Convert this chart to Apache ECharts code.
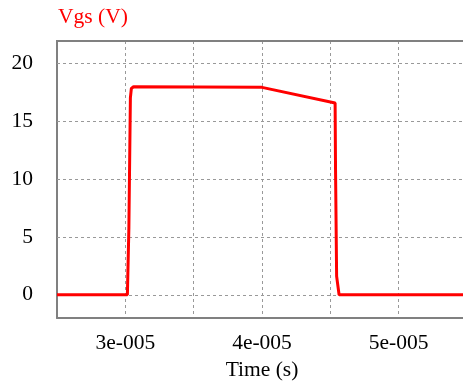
<!DOCTYPE html>
<html>
<head>
<meta charset="utf-8">
<script src="https://cdn.jsdelivr.net/npm/echarts@6/dist/echarts.min.js"></script>
<style>html,body{margin:0;padding:0;background:#fff}#c{width:463px;height:382px}</style>
</head>
<body>
<div id="c"></div>
<script>
// time in microseconds (1e-5 s = 10 us)
var timeUs = [25, 30.15, 30.26, 30.26, 30.33, 30.37, 30.44, 30.6, 40, 45.35, 45.38, 45.46, 45.64, 55];
var vgs    = [0, 0, 0, 5.8, 5.8, 17, 17.8, 17.95, 17.9, 16.55, 10.9, 1.6, 0, 0];
var xTickLabels = {30: '3e-005', 40: '4e-005', 50: '5e-005'};
var yTicks = [0, 5, 10, 15, 20];

var data = timeUs.map(function (t, i) { return [t, vgs[i]]; });
var font = 'Liberation Serif';
var chart = echarts.init(document.getElementById('c'));
chart.setOption({
  animation: false,
  title: {
    text: 'Vgs (V)', left: 58, top: 6, padding: 0,
    textStyle: {color: '#ff0000', fontSize: 21.5, fontWeight: 'normal', fontFamily: font}
  },
  grid: {left: 57, right: -4, top: 41, bottom: 64, containLabel: false, outerBoundsMode: 'none'},
  xAxis: {
    type: 'value', min: 25, max: 55, interval: 5,
    name: 'Time (s)', nameLocation: 'middle', nameGap: 36,
    nameTextStyle: {color: '#000', fontSize: 21.5, fontFamily: font},
    axisLine: {show: true, onZero: false, lineStyle: {color: '#808080', width: 2}},
    axisTick: {show: false},
    axisLabel: {
      color: '#000', fontSize: 21.5, fontFamily: font, margin: 14,
      formatter: function (v) { var k = Math.round(v); return xTickLabels[k] || ''; },
      showMinLabel: false, showMaxLabel: false
    },
    splitLine: {show: true, lineStyle: {color: '#999', type: [3, 3], width: 1}}
  },
  yAxis: {
    type: 'value', min: -2, max: 21.9,
    axisLine: {show: true, onZero: false, lineStyle: {color: '#808080', width: 2}},
    axisTick: {show: false, customValues: yTicks},
    axisLabel: {
      color: '#000', fontSize: 21.5, fontFamily: font, margin: 24,
      customValues: yTicks
    },
    splitLine: {show: false}
  },
  series: [{
    type: 'line', data: data, symbol: 'none',
    lineStyle: {color: '#ff0000', width: 3},
    z: 5,
    markLine: {
      silent: true, symbol: 'none', z: 1,
      label: {show: false},
      lineStyle: {color: '#999', type: [3, 3], width: 1},
      data: yTicks.map(function (v) { return {yAxis: v}; })
    }
  }]
});
// top border line of plot area
var gridRect = chart.getModel().getComponent('grid').coordinateSystem.getRect();
chart.setOption({
  graphic: [{
    type: 'line', z: 10,
    shape: {x1: gridRect.x - 1, y1: gridRect.y, x2: gridRect.x + gridRect.width, y2: gridRect.y},
    style: {stroke: '#808080', lineWidth: 2}
  }]
});
</script>
</body>
</html>
